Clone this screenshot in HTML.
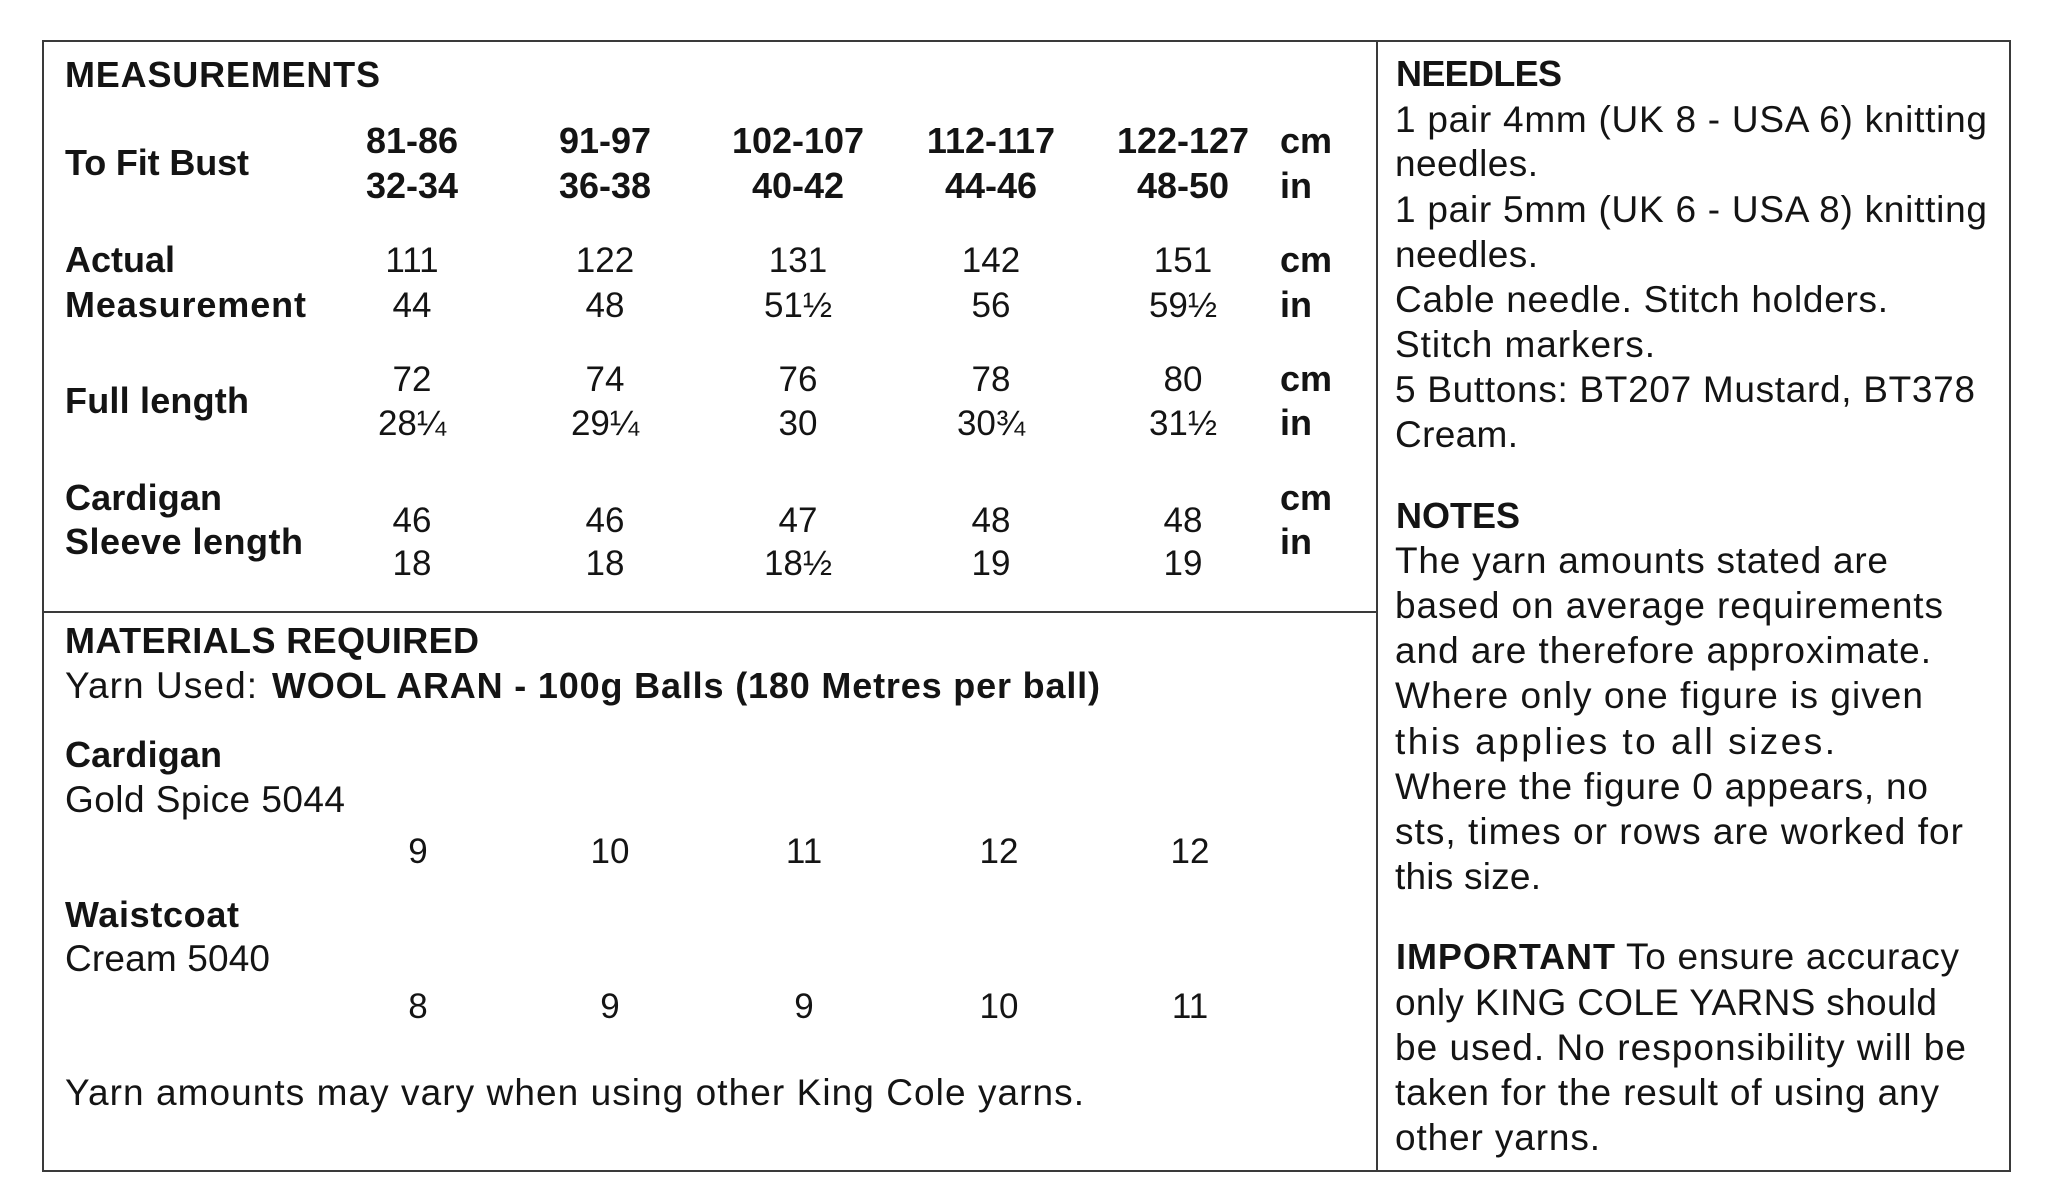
<!DOCTYPE html>
<html>
<head>
<meta charset="utf-8">
<style>
  html, body { margin: 0; padding: 0; background: #ffffff; }
  body { width: 2048px; height: 1202px; overflow: hidden; }
  svg { display: block; }
  text { font-family: "Liberation Sans", "DejaVu Sans", sans-serif; fill: #141414; }
  .b { font-weight: bold; font-size: 36px; }
  .r { font-weight: normal; font-size: 37px; }
  .n { font-weight: normal; font-size: 35px; }
  .nb { font-weight: bold; font-size: 36px; }
</style>
</head>
<body>
<svg width="2048" height="1202" viewBox="0 0 2048 1202" xmlns="http://www.w3.org/2000/svg">
  <rect x="0" y="0" width="2048" height="1202" fill="#ffffff"/>
  <!-- frame -->
  <rect x="43" y="41" width="1967" height="1130" fill="none" stroke="#3a3a3a" stroke-width="2"/>
  <line x1="1377" y1="41" x2="1377" y2="1171" stroke="#3a3a3a" stroke-width="2"/>
  <line x1="43" y1="612" x2="1377" y2="612" stroke="#3a3a3a" stroke-width="2"/>

  <!-- MEASUREMENTS -->
  <text class="b" x="65" y="87" textLength="315" lengthAdjust="spacing">MEASUREMENTS</text>

  <!-- To Fit Bust -->
  <text class="b" x="65" y="175" textLength="184" lengthAdjust="spacing">To Fit Bust</text>
  <g class="nb" text-anchor="middle">
    <text class="nb" x="412" y="153">81-86</text>
    <text class="nb" x="605" y="153">91-97</text>
    <text class="nb" x="798" y="153">102-107</text>
    <text class="nb" x="991" y="153">112-117</text>
    <text class="nb" x="1183" y="153">122-127</text>
    <text class="nb" x="412" y="198">32-34</text>
    <text class="nb" x="605" y="198">36-38</text>
    <text class="nb" x="798" y="198">40-42</text>
    <text class="nb" x="991" y="198">44-46</text>
    <text class="nb" x="1183" y="198">48-50</text>
  </g>
  <text class="b" x="1280" y="153">cm</text>
  <text class="b" x="1280" y="198">in</text>

  <!-- Actual Measurement -->
  <text class="b" x="65" y="272" textLength="110" lengthAdjust="spacing">Actual</text>
  <text class="b" x="65" y="317" textLength="241" lengthAdjust="spacing">Measurement</text>
  <g text-anchor="middle">
    <text class="n" x="412" y="272">111</text>
    <text class="n" x="605" y="272">122</text>
    <text class="n" x="798" y="272">131</text>
    <text class="n" x="991" y="272">142</text>
    <text class="n" x="1183" y="272">151</text>
    <text class="n" x="412" y="317">44</text>
    <text class="n" x="605" y="317">48</text>
    <text class="n" x="798" y="317">51½</text>
    <text class="n" x="991" y="317">56</text>
    <text class="n" x="1183" y="317">59½</text>
  </g>
  <text class="b" x="1280" y="272">cm</text>
  <text class="b" x="1280" y="317">in</text>

  <!-- Full length -->
  <text class="b" x="65" y="413" textLength="184" lengthAdjust="spacing">Full length</text>
  <g text-anchor="middle">
    <text class="n" x="412" y="391">72</text>
    <text class="n" x="605" y="391">74</text>
    <text class="n" x="798" y="391">76</text>
    <text class="n" x="991" y="391">78</text>
    <text class="n" x="1183" y="391">80</text>
    <text class="n" x="412" y="435">28¼</text>
    <text class="n" x="605" y="435">29¼</text>
    <text class="n" x="798" y="435">30</text>
    <text class="n" x="991" y="435">30¾</text>
    <text class="n" x="1183" y="435">31½</text>
  </g>
  <text class="b" x="1280" y="391">cm</text>
  <text class="b" x="1280" y="435">in</text>

  <!-- Cardigan Sleeve length -->
  <text class="b" x="65" y="510" textLength="157" lengthAdjust="spacing">Cardigan</text>
  <text class="b" x="65" y="554" textLength="238" lengthAdjust="spacing">Sleeve length</text>
  <g text-anchor="middle">
    <text class="n" x="412" y="532">46</text>
    <text class="n" x="605" y="532">46</text>
    <text class="n" x="798" y="532">47</text>
    <text class="n" x="991" y="532">48</text>
    <text class="n" x="1183" y="532">48</text>
    <text class="n" x="412" y="575">18</text>
    <text class="n" x="605" y="575">18</text>
    <text class="n" x="798" y="575">18½</text>
    <text class="n" x="991" y="575">19</text>
    <text class="n" x="1183" y="575">19</text>
  </g>
  <text class="b" x="1280" y="510">cm</text>
  <text class="b" x="1280" y="554">in</text>

  <!-- MATERIALS REQUIRED -->
  <text class="b" x="65" y="653" textLength="414" lengthAdjust="spacing">MATERIALS REQUIRED</text>
  <text class="r" x="65" y="698" textLength="192" lengthAdjust="spacing">Yarn Used:</text>
  <text class="b" x="272" y="698" textLength="828" lengthAdjust="spacing">WOOL ARAN - 100g Balls (180 Metres per ball)</text>

  <text class="b" x="65" y="767" textLength="157" lengthAdjust="spacing">Cardigan</text>
  <text class="r" x="65" y="812" textLength="280" lengthAdjust="spacing">Gold Spice 5044</text>
  <g text-anchor="middle">
    <text class="n" x="418" y="863">9</text>
    <text class="n" x="610" y="863">10</text>
    <text class="n" x="804" y="863">11</text>
    <text class="n" x="999" y="863">12</text>
    <text class="n" x="1190" y="863">12</text>
  </g>

  <text class="b" x="65" y="927" textLength="174" lengthAdjust="spacing">Waistcoat</text>
  <text class="r" x="65" y="971" textLength="205" lengthAdjust="spacing">Cream 5040</text>
  <g text-anchor="middle">
    <text class="n" x="418" y="1018">8</text>
    <text class="n" x="610" y="1018">9</text>
    <text class="n" x="804" y="1018">9</text>
    <text class="n" x="999" y="1018">10</text>
    <text class="n" x="1190" y="1018">11</text>
  </g>

  <text class="r" x="65" y="1105" textLength="1019" lengthAdjust="spacing">Yarn amounts may vary when using other King Cole yarns.</text>

  <!-- Right column -->
  <text class="b" x="1396" y="86" textLength="166" lengthAdjust="spacing">NEEDLES</text>
  <text class="r" x="1395" y="132" textLength="592" lengthAdjust="spacing">1 pair 4mm (UK 8 - USA 6) knitting</text>
  <text class="r" x="1395" y="176" textLength="143" lengthAdjust="spacing">needles.</text>
  <text class="r" x="1395" y="222" textLength="592" lengthAdjust="spacing">1 pair 5mm (UK 6 - USA 8) knitting</text>
  <text class="r" x="1395" y="267" textLength="143" lengthAdjust="spacing">needles.</text>
  <text class="r" x="1395" y="312" textLength="493" lengthAdjust="spacing">Cable needle. Stitch holders.</text>
  <text class="r" x="1395" y="357" textLength="260" lengthAdjust="spacing">Stitch markers.</text>
  <text class="r" x="1395" y="402" textLength="580" lengthAdjust="spacing">5 Buttons: BT207 Mustard, BT378</text>
  <text class="r" x="1395" y="447" textLength="123" lengthAdjust="spacing">Cream.</text>

  <text class="b" x="1396" y="528" textLength="124" lengthAdjust="spacing">NOTES</text>
  <text class="r" x="1395" y="573" textLength="493" lengthAdjust="spacing">The yarn amounts stated are</text>
  <text class="r" x="1395" y="618" textLength="548" lengthAdjust="spacing">based on average requirements</text>
  <text class="r" x="1395" y="663" textLength="536" lengthAdjust="spacing">and are therefore approximate.</text>
  <text class="r" x="1395" y="708" textLength="528" lengthAdjust="spacing">Where only one figure is given</text>
  <text class="r" x="1395" y="754" textLength="440" lengthAdjust="spacing">this applies to all sizes.</text>
  <text class="r" x="1395" y="799" textLength="533" lengthAdjust="spacing">Where the figure 0 appears, no</text>
  <text class="r" x="1395" y="844" textLength="568" lengthAdjust="spacing">sts, times or rows are worked for</text>
  <text class="r" x="1395" y="889" textLength="146" lengthAdjust="spacing">this size.</text>

  <text class="b" x="1396" y="969" textLength="219" lengthAdjust="spacing">IMPORTANT</text>
  <text class="r" x="1626" y="969" textLength="333" lengthAdjust="spacing">To ensure accuracy</text>
  <text class="r" x="1395" y="1015" textLength="542" lengthAdjust="spacing">only KING COLE YARNS should</text>
  <text class="r" x="1395" y="1060" textLength="571" lengthAdjust="spacing">be used. No responsibility will be</text>
  <text class="r" x="1395" y="1105" textLength="544" lengthAdjust="spacing">taken for the result of using any</text>
  <text class="r" x="1395" y="1150" textLength="205" lengthAdjust="spacing">other yarns.</text>
</svg>
</body>
</html>
